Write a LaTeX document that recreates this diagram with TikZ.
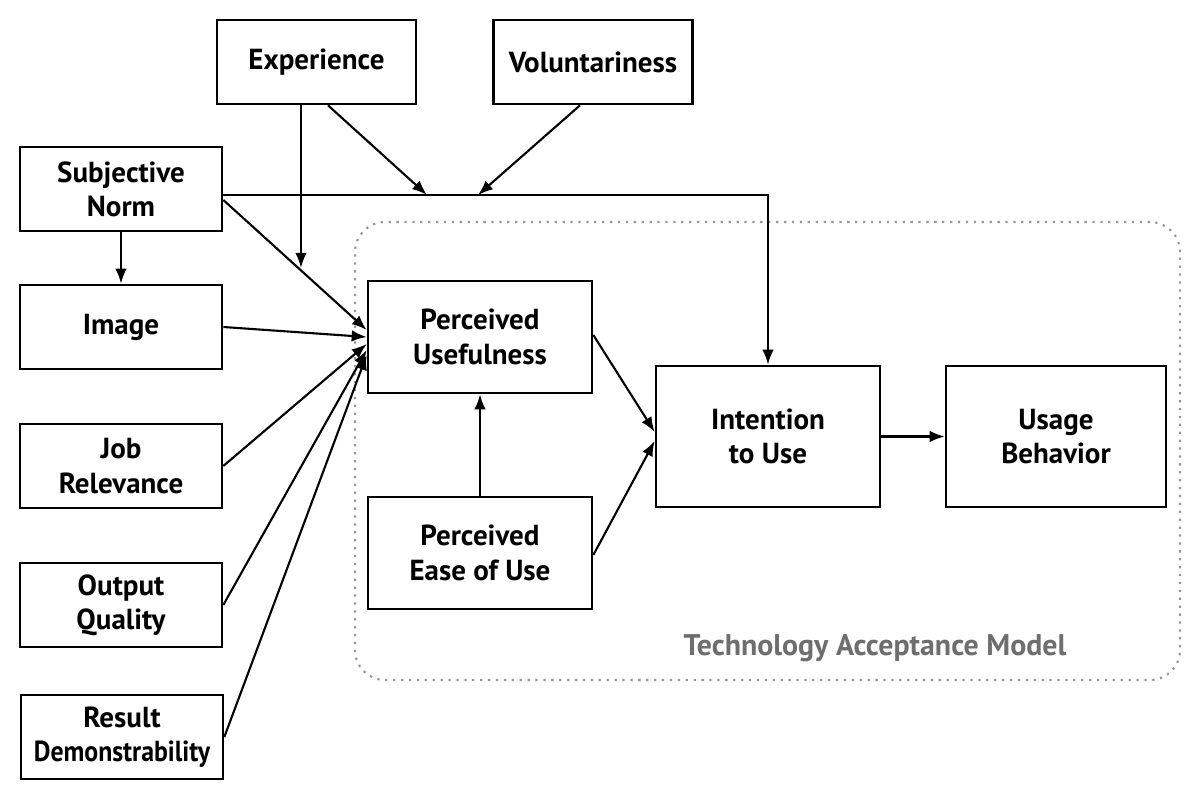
\documentclass[tikz,border=0pt]{standalone}
\usepackage{fontspec}
\setmainfont{PT Sans}
\usepackage{tikz}
\usetikzlibrary{arrows.meta,positioning,calc}
\definecolor{framegray}{RGB}{150,150,150}
\definecolor{labelgray}{RGB}{110,110,110}

\begin{document}
\begin{tikzpicture}[
  every node/.style={font=\fontsize{16.5}{19.5}\selectfont\bfseries},
  box/.style={draw=black,line width=1.5pt,fill=white,align=center,
              minimum width=4.04cm,minimum height=1.68cm,inner sep=2pt},
  bigbox/.style={box,minimum width=4.48cm,minimum height=2.24cm},
  tallbox/.style={box,minimum width=4.48cm,minimum height=2.82cm},
  arr/.style={line width=1.2pt,-{Latex[length=3mm,width=2.3mm]}},
  tamframe/.style={draw=framegray,line width=1.2pt,dash pattern=on 1.3pt off 3.2pt,
                   rounded corners=0.6cm,minimum width=16.5cm,minimum height=9.16cm},
]
\useasboundingbox (0,0) rectangle (23.76,-15.86);

%% TAM frame and caption
\node[tamframe] (tam) at (15.35,-9.02) {};
\node[text=labelgray,font=\fontsize{17}{20}\selectfont\bfseries] (tamlbl)
  at (17.5,-12.96) {Technology Acceptance Model};

%% Moderators
\node[box,minimum width=3.98cm] (experience) at (6.33,-1.24) {Experience};
\node[box,minimum width=3.98cm] (volunt)     at (11.86,-1.24) {Voluntariness};

%% External variables
\node[box] (subjnorm) at (2.42,-3.78)  {Subjective\\Norm};
\node[box] (image)    at (2.42,-6.54)  {Image};
\node[box] (jobrel)   at (2.42,-9.32)  {Job\\Relevance};
\node[box] (outqual)  at (2.42,-12.10) {Output\\Quality};
\node[box] (resdem)   at (2.44,-14.74)
  {Result\\\scalebox{0.89}[1]{Demonstrability}};

%% TAM core
\node[bigbox]  (pu)     at (9.60,-6.74)  {Perceived\\Usefulness};
\node[bigbox]  (peou)   at (9.60,-11.06) {Perceived\\Ease of Use};
\node[tallbox] (intent) at (15.36,-8.73) {Intention\\to Use};
\node[tallbox,minimum width=4.40cm] (usage) at (21.12,-8.73) {Usage\\Behavior};

%% Meeting points on the norm line
\coordinate (expmeet) at (8.54,-3.90);
\coordinate (volmeet) at (9.56,-3.90);
\coordinate (sndown)  at (6.02,-5.36);

%% Connectors
\draw[arr] ([yshift=-0.12cm]subjnorm.east) -| (intent.north);
\draw[arr] ([xshift=0.23cm]experience.south) -- (expmeet);
\draw[arr] ([xshift=-0.26cm]volunt.south) -- (volmeet);
\draw[arr] (experience.south -| sndown) -- (sndown);
\draw[arr] (subjnorm) -- (image);

\draw[arr] ([yshift=-0.22cm]subjnorm.east) -- ([yshift=0.14cm]pu.west);
\draw[arr] (image.east)   -- (pu.west);
\draw[arr] (jobrel.east)  -- ([yshift=-0.14cm]pu.west);
\draw[arr] (outqual.east) -- ([yshift=-0.26cm]pu.west);
\draw[arr] (resdem.east)  -- ([yshift=-0.36cm]pu.west);

\draw[arr] (peou) -- (pu);
\draw[arr] ([yshift=0.04cm]pu.east)    -- ([yshift=0.09cm]intent.west);
\draw[arr] ([yshift=-0.04cm]peou.east) -- ([yshift=-0.09cm]intent.west);
\draw[arr] (intent) -- (usage);

\end{tikzpicture}
\end{document}
